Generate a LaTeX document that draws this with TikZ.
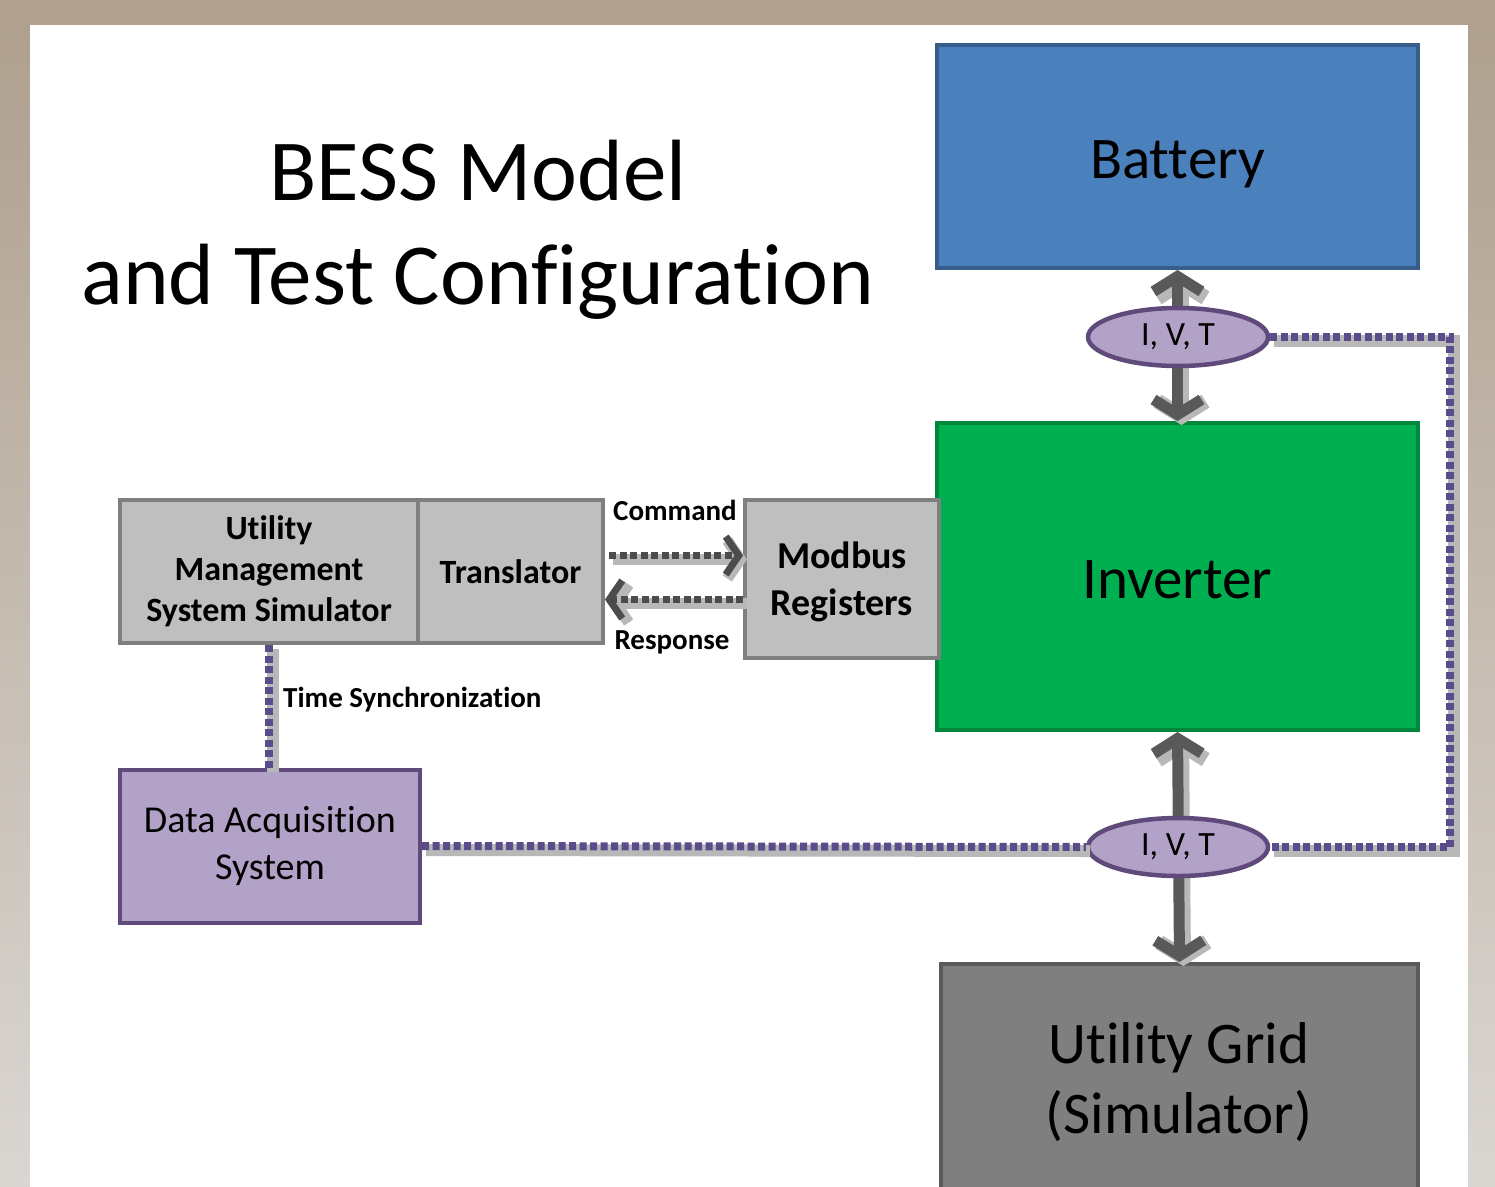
\documentclass[tikz,border=0pt]{standalone}
\usepackage{fontspec}
\setmainfont{Carlito}[Ligatures=NoCommon]
\usetikzlibrary{arrows.meta,shapes.geometric,calc}
\definecolor{bgtan}{HTML}{AFA08F}
\definecolor{bglight}{HTML}{DAD6D2}
\definecolor{batfill}{HTML}{4A81BD}
\definecolor{batline}{HTML}{385D8A}
\definecolor{invfill}{HTML}{00B050}
\definecolor{invline}{HTML}{00873C}
\definecolor{gridfill}{HTML}{7F7F7F}
\definecolor{gridline}{HTML}{5A5A5A}
\definecolor{lavfill}{HTML}{B3A2C7}
\definecolor{lavline}{HTML}{604A7B}
\definecolor{dotpurple}{HTML}{5A4B8A}
\definecolor{boxgray}{HTML}{BFBFBF}
\definecolor{boxline}{HTML}{7F7F7F}
\definecolor{arrgray}{HTML}{595959}
\definecolor{shadowgray}{HTML}{B8B8B8}
\begin{document}
\begin{tikzpicture}[x=1pt,y=-1pt,
  box/.style={draw, rectangle, align=center, inner sep=0pt},
  bigtext/.style={font=\fontsize{59}{70}\selectfont},
  onelinebig/.style={bigtext, text height=43pt, text depth=0pt},
  midbold/.style={font=\bfseries\fontsize{34}{41}\selectfont},
  lbl/.style={font=\bfseries\fontsize{29}{32}\selectfont, inner sep=0pt},
  ell/.style={ellipse, draw=lavline, fill=lavfill, line width=4.5pt,
    minimum width=180pt, minimum height=58pt, inner sep=0pt,
    font=\fontsize{34}{38}\selectfont},
  shadowed/.style={preaction={draw=shadowgray, solid, line width=\pgflinewidth+2pt,
    transform canvas={shift={(4pt,-4pt)}}}},
  bigarrow/.style={draw=arrgray, line width=11pt, shadowed,
    {Straight Barb[length=15pt,width=48pt]}-{Straight Barb[length=15pt,width=48pt]}},
  dotline/.style={draw=dotpurple, line width=8pt, dash pattern=on 7pt off 3.5pt, shadowed},
  cmdline/.style={draw=arrgray!85!black, line width=7pt, dash pattern=on 7pt off 3.5pt, shadowed,
    -{Straight Barb[length=13pt,width=38pt]}}
]
\useasboundingbox (0,0) rectangle (1495,1186);
% background frame
\fill[bgtan] (0,0) rectangle (1495,25);
\shade[top color=bgtan, bottom color=bglight] (0,25) rectangle (30,1186);
\shade[top color=bgtan, bottom color=bglight] (1468,25) rectangle (1495,1186);
\fill[white] (30,25) rectangle (1468,1186);

% title
\node[font=\fontsize{87}{104}\selectfont, align=center] (title) at (478,230)
  {BESS Model\\and Test Configuration};

% right column
\node[box, fill=batfill, draw=batline, line width=4pt, minimum width=481pt, minimum height=223pt, onelinebig] (bat) at (1177.5,156.5) {Battery};
\node[box, fill=invfill, draw=invline, line width=4pt, minimum width=481pt, minimum height=307pt, onelinebig] (inv) at (1177.5,576.5) {Inverter};
\node[box, fill=gridfill, draw=gridline, line width=4pt, minimum width=477pt, minimum height=250pt, anchor=north] (grid) at (1179.5,962) {};
\node[bigtext, align=center] (gridtxt) at (1179,1082) {Utility Grid\\(Simulator)};

% big arrows
\draw[bigarrow] (bat.south) -- (inv.north);
\draw[bigarrow] (inv.south) -- (grid.north);

\node[ell] (e1) at (1178,337) {I, V, T};
\node[ell] (e2) at (1178,847) {I, V, T};

% left boxes
\node[box, fill=boxgray, draw=boxline, line width=4pt, minimum width=298pt, minimum height=143pt, midbold] (ums) at (269,571.5) {Utility\\Management\\System Simulator};
\node[box, fill=boxgray, draw=boxline, line width=4pt, minimum width=185pt, minimum height=143pt, midbold] (trans) at (510.5,571.5) {Translator};
\node[box, fill=boxgray, draw=boxline, line width=4pt, minimum width=194pt, minimum height=158pt, font=\bfseries\fontsize{38}{47}\selectfont, text depth=0pt] (mod) at (842,579) {Modbus\\Registers};
\node[box, fill=lavfill, draw=lavline, line width=4pt, minimum width=300pt, minimum height=153pt, font=\fontsize{38}{47}\selectfont] (das) at (270,846) {Data Acquisition\\System};

% command / response
\coordinate (cmdA) at ($(trans.east)+(4,-16)$);
\coordinate (rspA) at ($(trans.east)+(0,28)$);
\draw[cmdline] (cmdA) -- (cmdA -| mod.west);
\draw[cmdline] (rspA -| mod.west) -- (rspA);
\node[lbl] (cmdl) at (675,510) {Command};
\node[lbl] (rspl) at (672,642) {Response};

% dotted connections
\coordinate (c2) at (1450,847);
\draw[dotline] (e1.east) -| (c2) -- (e2.east);
\draw[dotline] (das.east) -- (e2.west);
\draw[dotline] (ums.south) -- (ums.south |- das.north);
\node[lbl, anchor=west] (tsl) at (283,700) {Time Synchronization};
\end{tikzpicture}
\end{document}
